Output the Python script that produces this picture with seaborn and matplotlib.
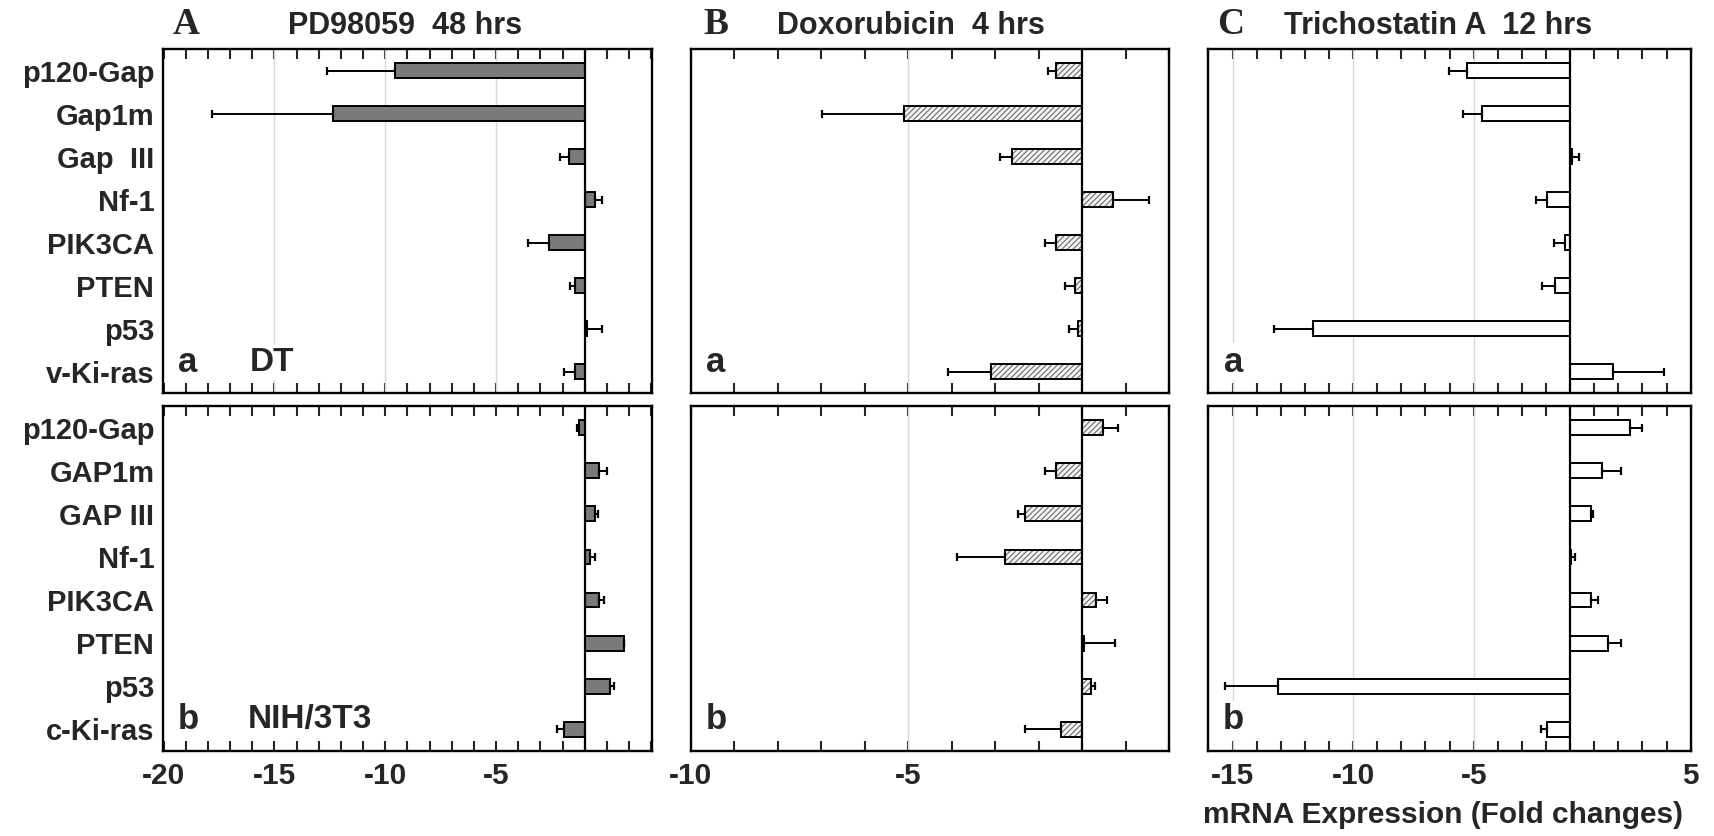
import numpy as np
import pandas as pd
import matplotlib
matplotlib.use("Agg")
import matplotlib.pyplot as plt
from matplotlib.patches import Rectangle
import seaborn as sns

# ---------------- data ----------------
genes_top = ["p120-Gap", "Gap1m", "Gap  III", "Nf-1", "PIK3CA", "PTEN", "p53", "v-Ki-ras"]
genes_bottom = ["p120-Gap", "GAP1m", "GAP III", "Nf-1", "PIK3CA", "PTEN", "p53", "c-Ki-ras"]

# bar values measured from the vertical reference line (axis units)
pd_top = [-8.55, -11.34, -0.72, 0.48, -1.60, -0.42, 0.10, -0.42]
pd_top_err = [3.08, 5.49, 0.38, 0.32, 0.98, 0.23, 0.70, 0.53]
pd_bot = [-0.25, 0.66, 0.48, 0.24, 0.66, 1.76, 1.12, -0.92]
pd_bot_err = [0.10, 0.35, 0.11, 0.23, 0.23, 0.0, 0.19, 0.35]

dox_top = [-0.61, -4.11, -1.62, 0.70, -0.61, -0.18, -0.09, -2.10]
dox_top_err = [0.19, 1.88, 0.27, 0.83, 0.26, 0.21, 0.21, 1.00]
dox_bot = [0.47, -0.61, -1.32, -1.79, 0.31, 0.03, 0.21, -0.49]
dox_bot_err = [0.34, 0.26, 0.15, 1.10, 0.25, 0.72, 0.09, 0.83]

tsa_top = [-4.28, -3.66, 0.08, -0.94, -0.22, -0.62, -10.67, 1.78]
tsa_top_err = [0.73, 0.78, 0.27, 0.48, 0.47, 0.53, 1.61, 2.12]
tsa_bot = [2.48, 1.34, 0.85, 0.03, 0.85, 1.59, -12.10, -0.98]
tsa_bot_err = [0.48, 0.78, 0.08, 0.17, 0.32, 0.53, 2.20, 0.21]

panel_letters = ["A", "B", "C"]
panel_titles = ["PD98059  48 hrs", "Doxorubicin  4 hrs", "Trichostatin A  12 hrs"]

# tick labels per column (position on axis, label text)
tick_pos = [[-19, -14, -9, -4], [-9, -4], [-14, -9, -4, 5]]
tick_txt = [["-20", "-15", "-10", "-5"], ["-10", "-5"], ["-15", "-10", "-5", "5"]]
grid_pos = [[-14, -9, -4], [-4], [-14, -9, -4]]
xlims = [(-19.05, 3.05), (-9, 2), (-15, 5)]

xlabel_text = "mRNA Expression (Fold changes)"

# ---------------- style ----------------
sns.set_style("white")
plt.rcParams["font.family"] = ["Liberation Sans", "DejaVu Sans"]
plt.rcParams["hatch.linewidth"] = 0.8

W, H = 1715, 836
fig = plt.figure(figsize=(W / 100, H / 100), dpi=100)

col_l = [162.6, 691.0, 1208.5]
col_r = [652.3, 1169.3, 1690.7]
row_t = [49.0, 406.0]
row_b = [393.0, 751.0]

values = [[pd_top, pd_bot], [dox_top, dox_bot], [tsa_top, tsa_bot]]
errors = [[pd_top_err, pd_bot_err], [dox_top_err, dox_bot_err], [tsa_top_err, tsa_bot_err]]
genes = [genes_top, genes_bottom]
fills = ["#7a7a7a", "#f4f4f4", "white"]

for c in range(3):
    for r in range(2):
        ax = fig.add_axes([col_l[c] / W, 1 - row_b[r] / H,
                           (col_r[c] - col_l[c]) / W, (row_b[r] - row_t[r]) / H])
        vals = values[c][r]
        errs = errors[c][r]
        df = pd.DataFrame({"gene": genes[r], "val": vals})
        if c == 1:
            sns.barplot(data=df, x="val", y="gene", orient="h", width=0.34,
                        color=fills[c], edgecolor="#6a6a6a", linewidth=0,
                        errorbar=None, ax=ax, zorder=3)
            for p in list(ax.patches):
                p.set_hatch("//////")
                p.set_facecolor(fills[c])
                ax.add_patch(Rectangle(p.get_xy(), p.get_width(), p.get_height(),
                                       fill=False, edgecolor="black", linewidth=1.4,
                                       zorder=4))
        else:
            sns.barplot(data=df, x="val", y="gene", orient="h", width=0.34,
                        color=fills[c], edgecolor="black", linewidth=1.4,
                        errorbar=None, ax=ax, zorder=3)
            for p in ax.patches:
                p.set_facecolor(fills[c])
        v = np.array(vals)
        e = np.array(errs)
        lower = np.where(v < 0, e, 0.0)
        upper = np.where(v >= 0, e, 0.0)
        ax.errorbar(v, np.arange(len(v)), xerr=[lower, upper], fmt="none",
                    ecolor="black", elinewidth=1.4, capsize=3.2, capthick=1.6,
                    zorder=5)
        ax.axvline(0, color="black", lw=1.6, zorder=6)
        if not (c == 0 and r == 1):
            for g in grid_pos[c]:
                ax.axvline(g, color="#d8d8d8", lw=1.0, zorder=1)

        ax.set_xlim(*xlims[c])
        ax.set_ylim(7.5, -0.5)
        ints = np.arange(int(np.ceil(xlims[c][0])), int(np.floor(xlims[c][1])) + 1)
        ax.set_xticks(ints)
        lab = dict(zip(tick_pos[c], tick_txt[c]))
        ax.set_xticklabels([lab.get(int(i), "") for i in ints],
                           fontsize=21.5, fontweight="bold")
        ax.tick_params(axis="x", direction="in", top=True, bottom=True,
                       length=7, width=1.5, pad=8, labelbottom=(r == 1))
        ax.tick_params(axis="y", length=0, pad=6)
        ax.set_xlabel("")
        ax.set_ylabel("")
        if c == 0:
            ax.set_yticks(range(8))
            ax.set_yticklabels(genes[r], fontsize=21, fontweight="bold")
        else:
            ax.set_yticklabels([])
        for s in ax.spines.values():
            s.set_visible(True)
            s.set_color("black")
            s.set_linewidth(1.7)

        sub = "a" if r == 0 else "b"
        ax.text(0.052, 0.09, sub, transform=ax.transAxes, ha="center", va="center",
                fontsize=25, fontweight="bold", zorder=7,
                bbox=dict(facecolor="white", edgecolor="none", pad=2))
        if c == 0:
            ax.text(0.223 if r == 0 else 0.30, 0.09,
                    "DT" if r == 0 else "NIH/3T3", transform=ax.transAxes,
                    ha="center", va="center", fontsize=24, fontweight="bold",
                    zorder=7, bbox=dict(facecolor="white", edgecolor="none", pad=2))

# panel headers
letter_x = [186, 716, 1231]
title_x = [405, 911, 1438]
for c in range(3):
    fig.text(letter_x[c] / W, 1 - 25 / H, panel_letters[c], ha="center", va="center",
             fontsize=27, fontweight="bold", family=["Liberation Serif", "DejaVu Serif"])
    fig.text(title_x[c] / W, 1 - 26 / H, panel_titles[c], ha="center", va="center",
             fontsize=22, fontweight="bold")

fig.text(1443 / W, 1 - 815 / H, xlabel_text, ha="center", va="center",
         fontsize=21.5, fontweight="bold")

fig.savefig("out.png", dpi=100, facecolor="white")
